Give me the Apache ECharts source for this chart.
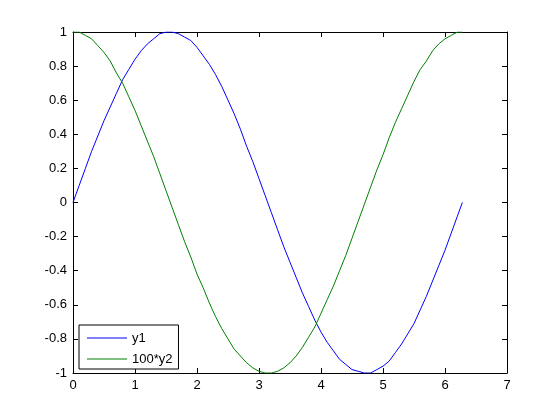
<!DOCTYPE html>
<html><head><meta charset="utf-8">
<script src="https://cdn.jsdelivr.net/npm/echarts@6/dist/echarts.min.js"></script>
<style>html,body{margin:0;padding:0;background:#fff}#c{width:560px;height:420px}</style>
</head><body><div id="c"></div>
<script>
const xValues = [0,0.1,0.2,0.3,0.4,0.5,0.6,0.7,0.8,0.9,1.0,1.1,1.2,1.3,1.4,1.5,1.6,1.7,1.8,1.9,2.0,2.1,2.2,2.3,2.4,2.5,2.6,2.7,2.8,2.9,3.0,3.1,3.2,3.3,3.4,3.5,3.6,3.7,3.8,3.9,4.0,4.1,4.2,4.3,4.4,4.5,4.6,4.7,4.8,4.9,5.0,5.1,5.2,5.3,5.4,5.5,5.6,5.7,5.8,5.9,6.0,6.1,6.2,6.28];
const y1 = [0,0.10,0.20,0.30,0.39,0.48,0.56,0.64,0.72,0.78,0.84,0.89,0.93,0.96,0.99,1.00,1.00,0.99,0.97,0.95,0.91,0.86,0.81,0.75,0.68,0.60,0.52,0.43,0.33,0.24,0.14,0.04,-0.06,-0.16,-0.26,-0.35,-0.44,-0.53,-0.61,-0.69,-0.76,-0.82,-0.87,-0.92,-0.95,-0.98,-0.99,-1.00,-1.00,-0.98,-0.96,-0.93,-0.88,-0.83,-0.77,-0.71,-0.63,-0.55,-0.46,-0.37,-0.28,-0.18,-0.08,0];
const y2 = [1.00,1.00,0.98,0.96,0.92,0.88,0.83,0.76,0.70,0.62,0.54,0.45,0.36,0.27,0.17,0.07,-0.03,-0.13,-0.23,-0.32,-0.42,-0.50,-0.59,-0.67,-0.74,-0.80,-0.86,-0.90,-0.94,-0.97,-0.99,-1.00,-1.00,-0.99,-0.97,-0.94,-0.90,-0.85,-0.79,-0.73,-0.65,-0.57,-0.49,-0.40,-0.31,-0.21,-0.11,-0.01,0.09,0.19,0.28,0.38,0.47,0.55,0.63,0.71,0.78,0.83,0.89,0.93,0.96,0.98,1.00,1.00];
const seriesNames = ['y1','100*y2'];

const chart = echarts.init(document.getElementById('c'));
const font = {fontFamily:'Liberation Sans, Arial, sans-serif', fontSize:13, color:'#000'};
const axisCommon = {
  axisLine:{show:true, onZero:false, lineStyle:{color:'#000', width:1}},
  axisTick:{show:true, inside:true, length:5, lineStyle:{color:'#000'}},
  splitLine:{show:false}
};
chart.setOption({
  animation:false,
  backgroundColor:'#fff',
  grid:{left:73, top:32, right:53, bottom:47, containLabel:false},
  legend:{
    orient:'vertical', left:79, top:325,
    data:seriesNames,
    icon:'rect',
    itemWidth:40, itemHeight:1, itemGap:7,
    padding:[6,6,3,8],
    borderColor:'#000', borderWidth:1, borderRadius:0,
    backgroundColor:'#fff',
    textStyle:Object.assign({lineHeight:14}, font)
  },
  xAxis:[
    Object.assign({type:'value', min:0, max:7, interval:1, position:'bottom',
      axisLabel:Object.assign({margin:6}, font)}, axisCommon),
    Object.assign({type:'value', min:0, max:7, interval:1, position:'top',
      axisLabel:{show:false}}, axisCommon)
  ],
  yAxis:[
    Object.assign({type:'value', min:-1, max:1, interval:0.2, position:'left',
      axisLabel:Object.assign({margin:6}, font)}, axisCommon),
    Object.assign({type:'value', min:-1, max:1, interval:0.2, position:'right',
      axisLabel:{show:false}}, axisCommon)
  ],
  series:[
    {name:seriesNames[0], type:'line', symbol:'none', data:xValues.map((x,i)=>[x,y1[i]]),
     lineStyle:{color:'#0000ff', width:1}, itemStyle:{color:'#0000ff'}},
    {name:seriesNames[1], type:'line', symbol:'none', data:xValues.map((x,i)=>[x,y2[i]]),
     lineStyle:{color:'#008000', width:1}, itemStyle:{color:'#008000'}}
  ]
});
</script></body></html>
